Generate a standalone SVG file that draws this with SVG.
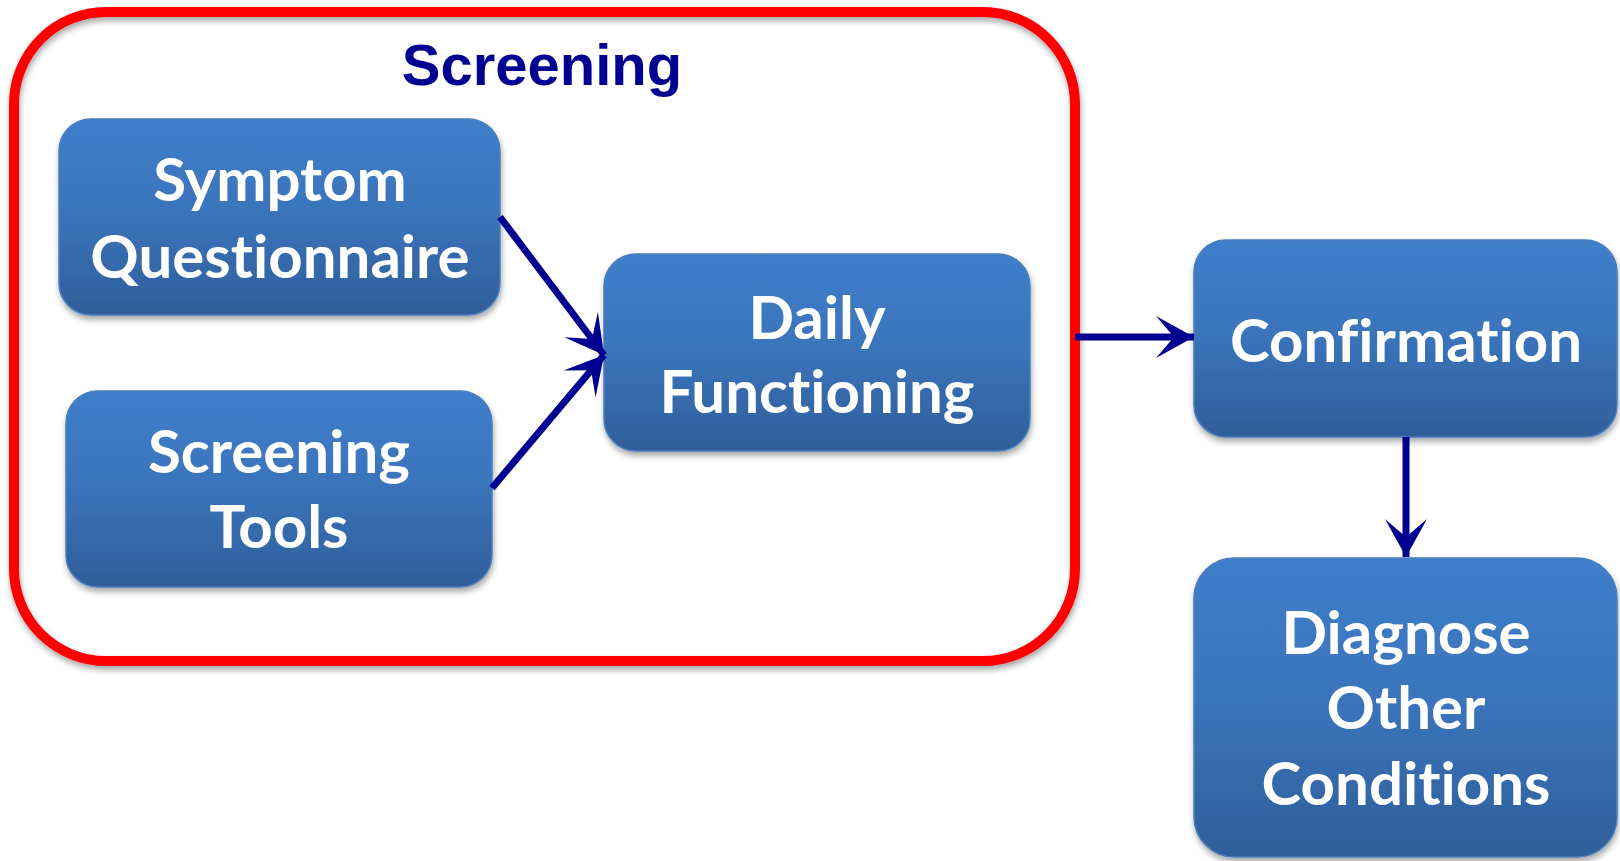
<svg xmlns="http://www.w3.org/2000/svg" width="1620" height="861" viewBox="0 0 1620 861">
<style>
.box{fill:url(#g);stroke:#4A7EBB;stroke-width:1.5;filter:url(#sh)}
.t{font-family:Lato,"Open Sans",sans-serif;font-weight:bold;font-size:60px;fill:#fff;text-anchor:middle;font-variant-ligatures:none;font-feature-settings:"liga" 0,"clig" 0}
.c{stroke:#000090;stroke-width:7;fill:none;marker-end:url(#ah)}
</style>
<defs>
<linearGradient id="g" x1="0" y1="0" x2="0" y2="1">
<stop offset="0" stop-color="#3F7FCB"/>
<stop offset="0.5" stop-color="#3A73BA"/>
<stop offset="1" stop-color="#2F5E9A"/>
</linearGradient>
<filter id="sh" x="-10%" y="-10%" width="125%" height="130%">
<feGaussianBlur in="SourceAlpha" stdDeviation="3"/>
<feOffset dx="1" dy="4" result="b"/>
<feComponentTransfer><feFuncA type="linear" slope="0.35"/></feComponentTransfer>
<feMerge><feMergeNode/><feMergeNode in="SourceGraphic"/></feMerge>
</filter>
<marker id="ah" markerUnits="userSpaceOnUse" viewBox="-40 -23 42 46" refX="0" refY="0" markerWidth="42" markerHeight="46" orient="auto">
<path d="M0,0 L-38,-21 L-20,0 L-38,21 Z" fill="#000090"/>
</marker>
</defs>
<g id="screening-group">
<rect x="14" y="12" width="1061" height="649" rx="92" ry="92" fill="none" stroke="#FF0000" stroke-width="10" filter="url(#sh)"/>
<text x="542" y="85" font-family="'Liberation Sans',Arial,sans-serif" font-weight="bold" font-size="58" fill="#000091" text-anchor="middle">Screening</text>
</g>
<g id="symptom-questionnaire">
<rect class="box" x="59" y="119" width="441" height="196" rx="32"/>
<text class="t" x="280" y="201">Symptom</text>
<text class="t" x="280" y="278">Questionnaire</text>
</g>
<g id="screening-tools">
<rect class="box" x="66" y="391" width="426" height="196" rx="32"/>
<text class="t" x="279" y="473">Screening</text>
<text class="t" x="279" y="548">Tools</text>
</g>
<g id="daily-functioning">
<rect class="box" x="604" y="254" width="426" height="197" rx="32"/>
<text class="t" x="817" y="339">Daily</text>
<text class="t" x="817" y="413">Functioning</text>
</g>
<g id="confirmation">
<rect class="box" x="1194" y="240" width="423" height="197" rx="32"/>
<text class="t" x="1406" y="362">Confirmation</text>
</g>
<g id="diagnose-other-conditions">
<rect class="box" x="1194" y="558" width="423" height="299" rx="40"/>
<text class="t" x="1406" y="654">Diagnose</text>
<text class="t" x="1406" y="729">Other</text>
<text class="t" x="1406" y="805">Conditions</text>
</g>
<g id="connectors">
<line class="c" x1="500" y1="217" x2="604" y2="355"/>
<line class="c" x1="492" y1="488" x2="604" y2="355"/>
<line class="c" x1="1075" y1="337" x2="1194" y2="337"/>
<line class="c" x1="1406" y1="437" x2="1406" y2="557"/>
</g>
</svg>
